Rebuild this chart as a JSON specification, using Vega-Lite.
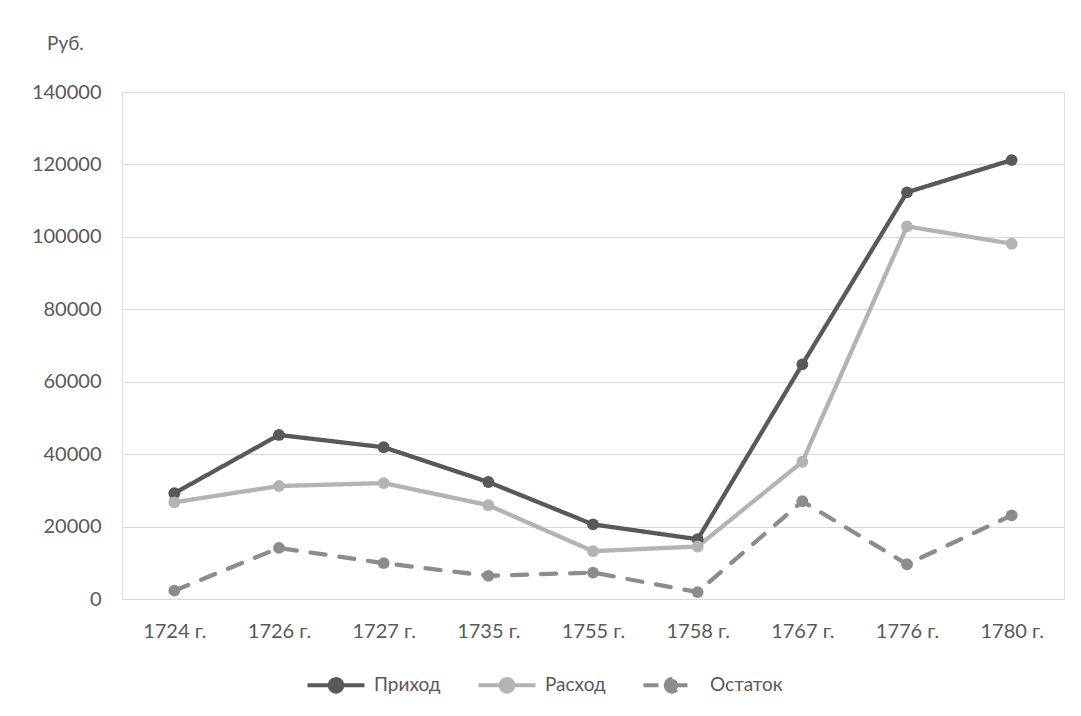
{
  "$schema": "https://vega.github.io/schema/vega-lite/v6.json",
  "autosize": "none",
  "width": 942,
  "height": 507,
  "padding": {"left": 122, "top": 92, "right": 17, "bottom": 117},
  "background": "white",
  "title": {
    "text": "Руб.",
    "anchor": "start",
    "frame": "group",
    "orient": "top",
    "offset": 28,
    "dx": -75,
    "fontSize": 19,
    "fontWeight": "normal",
    "color": "#595959",
    "font": "Lato"
  },
  "data": {
    "values": [
      {"year": "1724 г.", "series": "Приход", "value": 29200},
      {"year": "1726 г.", "series": "Приход", "value": 45300},
      {"year": "1727 г.", "series": "Приход", "value": 41900},
      {"year": "1735 г.", "series": "Приход", "value": 32300},
      {"year": "1755 г.", "series": "Приход", "value": 20600},
      {"year": "1758 г.", "series": "Приход", "value": 16500},
      {"year": "1767 г.", "series": "Приход", "value": 64800},
      {"year": "1776 г.", "series": "Приход", "value": 112300},
      {"year": "1780 г.", "series": "Приход", "value": 121200},
      {"year": "1724 г.", "series": "Расход", "value": 26700},
      {"year": "1726 г.", "series": "Расход", "value": 31200},
      {"year": "1727 г.", "series": "Расход", "value": 32000},
      {"year": "1735 г.", "series": "Расход", "value": 25900},
      {"year": "1755 г.", "series": "Расход", "value": 13200},
      {"year": "1758 г.", "series": "Расход", "value": 14500},
      {"year": "1767 г.", "series": "Расход", "value": 37900},
      {"year": "1776 г.", "series": "Расход", "value": 102900},
      {"year": "1780 г.", "series": "Расход", "value": 98100},
      {"year": "1724 г.", "series": "Остаток", "value": 2300},
      {"year": "1726 г.", "series": "Остаток", "value": 14100},
      {"year": "1727 г.", "series": "Остаток", "value": 9900},
      {"year": "1735 г.", "series": "Остаток", "value": 6400},
      {"year": "1755 г.", "series": "Остаток", "value": 7300},
      {"year": "1758 г.", "series": "Остаток", "value": 1900},
      {"year": "1767 г.", "series": "Остаток", "value": 27000},
      {"year": "1776 г.", "series": "Остаток", "value": 9600},
      {"year": "1780 г.", "series": "Остаток", "value": 23100}
    ]
  },
  "encoding": {
    "x": {
      "field": "year",
      "type": "ordinal",
      "sort": null,
      "scale": {"type": "point", "padding": 0.5},
      "axis": {
        "title": null,
        "labelAngle": 0,
        "ticks": false,
        "domain": false,
        "grid": false,
        "labelPadding": 22,
        "labelFontSize": 20,
        "labelColor": "#595959",
        "labelFont": "Lato"
      }
    },
    "y": {
      "field": "value",
      "type": "quantitative",
      "scale": {"domain": [0, 140000], "nice": false},
      "axis": {
        "title": null,
        "values": [0, 20000, 40000, 60000, 80000, 100000, 120000, 140000],
        "format": "d",
        "ticks": false,
        "domain": false,
        "grid": true,
        "gridColor": "#d9d9d9",
        "gridWidth": 1,
        "labelPadding": 21,
        "labelFontSize": 20,
        "labelColor": "#595959",
        "labelFont": "Lato"
      }
    },
    "color": {
      "field": "series",
      "type": "nominal",
      "scale": {
        "domain": ["Приход", "Расход", "Остаток"],
        "range": ["#595959", "#b3b3b3", "#8c8c8c"]
      },
      "legend": {
        "title": null,
        "orient": "none",
        "direction": "horizontal",
        "legendX": 183,
        "legendY": 562,
        "symbolType": "M-1,0H1M-0.22,0a0.22,0.22 0 1,0 0.44,0a0.22,0.22 0 1,0 -0.44,0",
        "symbolSize": 3250,
        "symbolStrokeWidth": 4,
        "labelFontSize": 19,
        "labelColor": "#595959",
        "labelFont": "Lato",
        "labelOffset": 7,
        "columnPadding": 29,
        "symbolOpacity": 1
      }
    }
  },
  "layer": [
    {
      "mark": {"type": "line", "strokeWidth": 4.3, "strokeCap": "round", "strokeJoin": "round"},
      "encoding": {
        "strokeDash": {
          "field": "series",
          "type": "nominal",
          "scale": {
            "domain": ["Приход", "Расход", "Остаток"],
            "range": [[1, 0], [1, 0], [15, 14]]
          },
          "legend": null
        }
      }
    },
    {
      "mark": {"type": "point", "filled": true, "opacity": 1, "size": 140}
    }
  ]
}
